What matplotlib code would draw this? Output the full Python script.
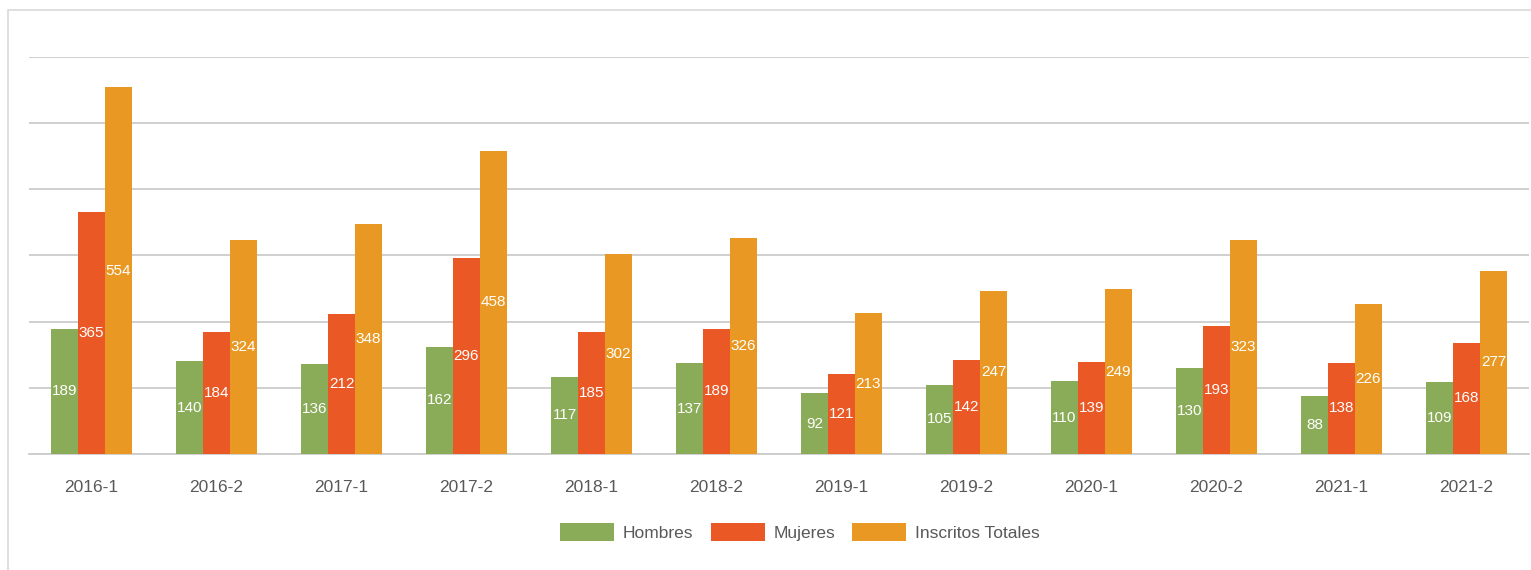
import matplotlib
matplotlib.use("Agg")
import matplotlib.pyplot as plt
from matplotlib.patches import Rectangle
import numpy as np

categories = ["2016-1", "2016-2", "2017-1", "2017-2", "2018-1", "2018-2",
              "2019-1", "2019-2", "2020-1", "2020-2", "2021-1", "2021-2"]
hombres = [189, 140, 136, 162, 117, 137, 92, 105, 110, 130, 88, 109]
mujeres = [365, 184, 212, 296, 185, 189, 121, 142, 139, 193, 138, 168]
totales = [554, 324, 348, 458, 302, 326, 213, 247, 249, 323, 226, 277]
series_names = ["Hombres", "Mujeres", "Inscritos Totales"]
colors = ["#8AAB58", "#E95825", "#E99923"]

plt.rcParams['font.family'] = ['Liberation Sans', 'DejaVu Sans']

fig = plt.figure(figsize=(15.31, 5.70), dpi=100)
fig.patch.set_facecolor("white")
# outer chart border
fig.patches.append(Rectangle((8/1531, -0.1), 1.2, 1 - 10/570 + 0.1,
                             transform=fig.transFigure, fill=False,
                             edgecolor="#D9D9D9", linewidth=1.2, zorder=0))

ax = fig.add_axes([29/1531, 1 - 454/570, 1500/1531, 397/570])
x = np.arange(len(categories))
w = 0.216
data = [hombres, mujeres, totales]
for i, (vals, name, c) in enumerate(zip(data, series_names, colors)):
    pos = x + (i - 1) * w
    ax.bar(pos, vals, width=w, color=c, label=name, zorder=3)
    for p, v in zip(pos, vals):
        ax.text(p, v / 2, str(v), ha="center", va="center", color="white",
                fontsize=11, zorder=4)

ax.set_ylim(0, 600)
ax.set_xlim(-0.5, len(categories) - 0.5)
ax.set_yticks(np.arange(0, 601, 100))
ax.yaxis.grid(True, color="#CCCCCC", linewidth=1.3, zorder=0)
ax.set_axisbelow(True)
ax.tick_params(axis="y", left=False, labelleft=False)
ax.tick_params(axis="x", length=0, pad=19, labelsize=12.5, labelcolor="#595959")
ax.set_xticks(x)
ax.set_xticklabels(categories)
for s in ["top", "right", "left"]:
    ax.spines[s].set_visible(False)
ax.spines["bottom"].set_color("#CCCCCC")
ax.spines["bottom"].set_linewidth(1.3)

leg = fig.legend(loc="center", bbox_to_anchor=(800/1531, 1 - 532/570), ncol=3,
                 frameon=False, fontsize=12.5, handlelength=3.1, handleheight=1.2,
                 handletextpad=0.5, columnspacing=1.0)
for t in leg.get_texts():
    t.set_color("#595959")

fig.savefig("out.png", dpi=100)
